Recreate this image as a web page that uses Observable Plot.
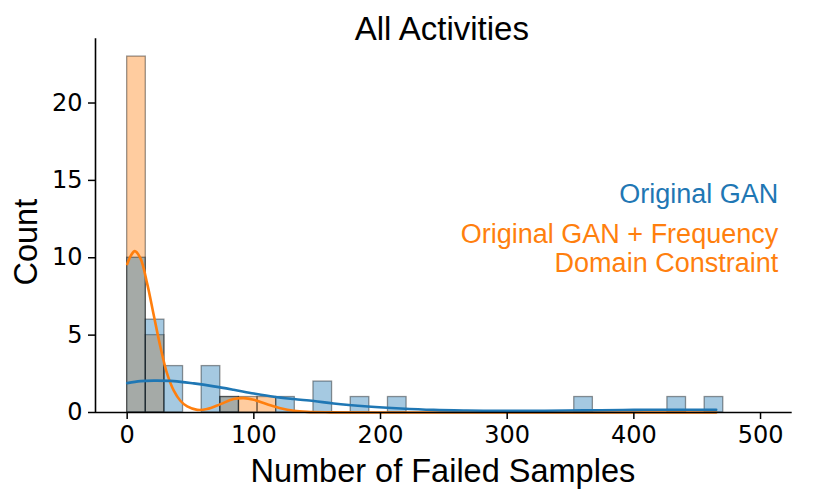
<!DOCTYPE html>
<html>
<head>
<meta charset="utf-8">
<script src="https://cdn.jsdelivr.net/npm/d3@7"></script>
<script src="https://cdn.jsdelivr.net/npm/@observablehq/plot@0.6"></script>
<style>
  html, body { margin: 0; padding: 0; background: #fff; }
  #chart svg { display: block; }
</style>
</head>
<body>
<div id="chart"></div>
<script>
// ---- data ----
const seriesNames = ["Original GAN", "Original GAN + Frequency\nDomain Constraint"];
const seriesColors = ["#1f77b4", "#ff7f0e"];
const binRange = [0, 500];
const binCount = 34;
// counts per bin (bin i covers [i*w, (i+1)*w), w = 500/34)
const countsOriginal = [10, 6, 3, 0, 3, 1, 0, 0, 1, 0, 2, 0, 1, 0, 1, 0, 0, 0, 0, 0, 0, 0, 0, 0, 1, 0, 0, 0, 0, 1, 0, 1, 0, 0];
const countsFreq     = [23, 5, 0, 0, 0, 1, 1, 1, 0, 0, 0, 0, 0, 0, 0, 0, 0, 0, 0, 0, 0, 0, 0, 0, 0, 0, 0, 0, 0, 0, 0, 0, 0, 0];
// KDE curves (scaled to counts)
const kdeOriginalX = [0, 10.5, 21, 36.8, 52.6, 68.4, 84, 100, 115.8, 131.6, 147.4, 163, 190, 216, 242, 268, 295, 321, 347, 374, 400, 426, 465];
const kdeOriginalY = [1.9, 2.03, 2.06, 2.03, 1.88, 1.69, 1.47, 1.23, 1.02, 0.87, 0.74, 0.58, 0.39, 0.26, 0.17, 0.13, 0.11, 0.11, 0.13, 0.15, 0.17, 0.18, 0.17];
const kdeFreqX = [0, 3, 6, 10.5, 15.8, 21, 26.3, 31.6, 36.8, 42, 47.4, 55.3, 63, 73.7, 84, 92, 100, 110.5, 121, 131.6, 142, 160, 200, 300, 400, 465];
const kdeFreqY = [9.59, 10.15, 10.43, 9.96, 8.33, 6.28, 4.22, 2.49, 1.41, 0.76, 0.39, 0.17, 0.22, 0.54, 0.87, 0.93, 0.82, 0.54, 0.28, 0.11, 0.04, 0.01, 0, 0, 0, 0];
const xDomain = [-25, 525];
const yDomain = [0, 24.15];
const xTicks = [0, 100, 200, 300, 400, 500];
const yTicks = [0, 5, 10, 15, 20];
const titleText = "All Activities";
const xLabel = "Number of Failed Samples";
const yLabel = "Count";

// ---- build tables ----
const w = (binRange[1] - binRange[0]) / binCount;
function bars(counts, s) {
  return counts.map((c, i) => ({x1: binRange[0] + i * w, x2: binRange[0] + (i + 1) * w, y: c, s}))
               .filter(d => d.y > 0);
}
const barsOriginal = bars(countsOriginal, 0);
const barsFreq = bars(countsFreq, 1);
const kdeOriginal = kdeOriginalX.map((x, i) => ({x, y: kdeOriginalY[i]}));
const kdeFreq = kdeFreqX.map((x, i) => ({x, y: kdeFreqY[i]}));

const labelFont = "Liberation Sans, Arial, Helvetica, sans-serif";
const tickFont = "DejaVu Sans, sans-serif";

const chart = Plot.plot({
  width: 814,
  height: 497,
  marginLeft: 95,
  marginRight: 22.3,
  marginTop: 38.3,
  marginBottom: 85,
  style: {background: "white", color: "black", fontFamily: labelFont},
  x: {domain: xDomain},
  y: {domain: yDomain},
  marks: [
    Plot.rectY(barsFreq, {x1: "x1", x2: "x2", y: "y", fill: seriesColors[1], fillOpacity: 0.4, stroke: "black", strokeOpacity: 0.4, strokeWidth: 1.3}),
    Plot.rectY(barsOriginal, {x1: "x1", x2: "x2", y: "y", fill: seriesColors[0], fillOpacity: 0.4, stroke: "black", strokeOpacity: 0.4, strokeWidth: 1.3}),
    Plot.line(kdeFreq, {x: "x", y: "y", stroke: seriesColors[1], strokeWidth: 2.6, curve: "catmull-rom"}),
    Plot.line(kdeOriginal, {x: "x", y: "y", stroke: seriesColors[0], strokeWidth: 2.6, curve: "catmull-rom"}),
    Plot.ruleX([xDomain[0]], {stroke: "black", strokeWidth: 1.6}),
    Plot.ruleY([yDomain[0]], {stroke: "black", strokeWidth: 1.6}),
    Plot.axisX({ticks: xTicks, tickSize: 7, tickPadding: 6, fontSize: 24, fontFamily: tickFont, strokeWidth: 1.5, label: null}),
    Plot.axisY({ticks: yTicks, tickSize: 7, tickPadding: 6, fontSize: 24, fontFamily: tickFont, strokeWidth: 1.5, label: null}),
    Plot.text([titleText], {frameAnchor: "top", textAnchor: "middle", lineAnchor: "bottom", dx: -2, dy: 0.7, fontSize: 33, fontFamily: labelFont, fill: "black"}),
    Plot.text([xLabel], {frameAnchor: "bottom", textAnchor: "middle", lineAnchor: "bottom", dx: -1, dy: 69.7, fontSize: 32.5, fontFamily: labelFont, fill: "black"}),
    Plot.text([yLabel], {frameAnchor: "left", textAnchor: "middle", lineAnchor: "bottom", rotate: -90, dx: -59, dy: 16.5, fontSize: 32.5, fontFamily: labelFont, fill: "black"}),
    Plot.text([seriesNames[0]], {frameAnchor: "top-right", textAnchor: "end", lineAnchor: "bottom", dx: -14, dy: 164, fontSize: 27, fontFamily: labelFont, fill: seriesColors[0]}),
    Plot.text([seriesNames[1]], {frameAnchor: "top-right", textAnchor: "end", lineAnchor: "bottom", lineHeight: 1.1, dx: -14, dy: 233.5, fontSize: 27, fontFamily: labelFont, fill: seriesColors[1]})
  ]
});
document.getElementById("chart").appendChild(chart);
</script>
</body>
</html>
